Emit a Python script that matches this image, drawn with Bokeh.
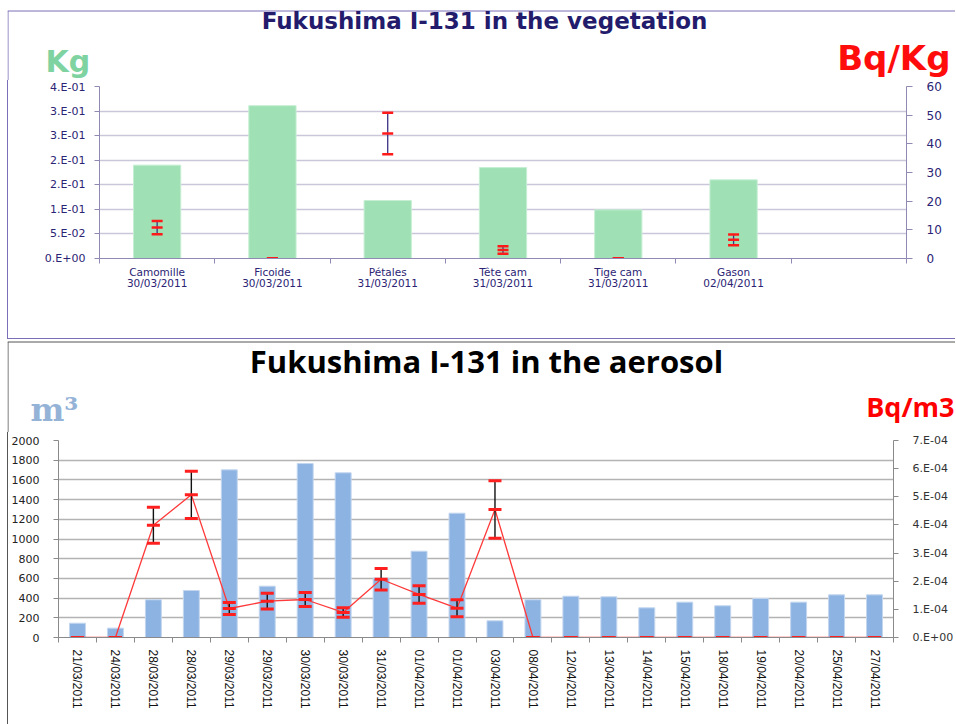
import math
from bokeh.plotting import figure
from bokeh.models import Range1d, LinearAxis, FixedTicker, Label
from bokeh.embed import file_html
from bokeh.resources import INLINE

# ---------------- Top panel: vegetation ----------------
veg_names = ["Camomille", "Ficoide", "Pétales", "Tête cam", "Tige cam", "Gason"]
veg_dates = ["30/03/2011", "30/03/2011", "31/03/2011", "31/03/2011", "31/03/2011", "02/04/2011"]
veg_mass_kg = [0.190, 0.311, 0.118, 0.185, 0.099, 0.160]
veg_activity_bqkg = [10.8, 0.0, 43.6, 3.0, 0.0, 6.5]
veg_error_bqkg = [2.3, 0.0, 7.2, 1.3, 0.0, 1.9]
veg_slots = 7
veg_left_ticks = [0, 0.05, 0.1, 0.15, 0.2, 0.25, 0.3, 0.35]
veg_left_labels = ["0.E+00", "5.E-02", "1.E-01", "2.E-01", "2.E-01", "3.E-01", "3.E-01", "4.E-01"]
veg_right_ticks = [0, 10, 20, 30, 40, 50, 60]

# ---------------- Bottom panel: aerosol ----------------
aer_dates = ["21/03/2011", "24/03/2011", "28/03/2011", "28/03/2011", "29/03/2011", "29/03/2011",
             "30/03/2011", "30/03/2011", "31/03/2011", "01/04/2011", "01/04/2011", "03/04/2011",
             "08/04/2011", "12/04/2011", "13/04/2011", "14/04/2011", "15/04/2011", "18/04/2011",
             "19/04/2011", "20/04/2011", "25/04/2011", "27/04/2011"]
aer_volume_m3 = [145, 95, 383, 477, 1702, 521, 1766, 1672, 602, 876, 1262, 169,
                 383, 419, 413, 301, 359, 322, 396, 359, 433, 433]
aer_activity_bqm3 = [0, 0, 3.99e-4, 5.07e-4, 1.03e-4, 1.29e-4, 1.35e-4, 0.89e-4, 2.07e-4, 1.53e-4,
                     1.04e-4, 4.55e-4, 0, 0, 0, 0, 0, 0, 0, 0, 0, 0]
aer_error_bqm3 = [0, 0, 0.64e-4, 0.84e-4, 0.21e-4, 0.28e-4, 0.25e-4, 0.17e-4, 0.38e-4, 0.31e-4,
                  0.30e-4, 1.02e-4, 0, 0, 0, 0, 0, 0, 0, 0, 0, 0]
aer_left_ticks = [0, 200, 400, 600, 800, 1000, 1200, 1400, 1600, 1800, 2000]
aer_right_ticks = [0, 0.0001, 0.0002, 0.0003, 0.0004, 0.0005, 0.0006, 0.0007]
aer_right_labels = ["0.E+00", "1.E-04", "2.E-04", "3.E-04", "4.E-04", "5.E-04", "6.E-04", "7.E-04"]

VERD = "DejaVu Sans"
NAVY = "#2b2475"
W = 948
PURPLE_C = "#7b6fb8"
GREY_C = "#555555"


def header(height, border_color, border_y):
    """Text strip above a chart; its frame spans the whole canvas (pixel data units)."""
    h = figure(width=W, height=height, x_range=Range1d(0, W), y_range=Range1d(0, height),
               output_backend="svg", toolbar_location=None, x_axis_location=None,
               y_axis_location=None, min_border=0, title=None, margin=(0, 0, 0, 7))
    h.grid.visible = False
    h.outline_line_color = None
    # panel frame: left and top edges
    h.segment(x0=[0.5, 0], y0=[0, border_y], x1=[0.5, W], y1=[border_y, border_y],
              line_color=border_color, line_width=1)
    return h


def add_text(fig, x, y, text, font, size, color, align, style="bold"):
    fig.add_layout(Label(x=x, y=y, text=text, text_align=align, text_baseline="alphabetic",
                         text_font=font, text_font_style=style, text_font_size=size,
                         text_color=color))


# =============== Top header ===============
h1 = header(80, PURPLE_C, 69.5)
add_text(h1, 477, 60, "Fukushima I-131 in the vegetation", VERD, "23px", "#231b6b", "center")
add_text(h1, 38, 19, "Kg", VERD, "30px", "#7fd3a0", "left")
add_text(h1, 943, 22.5, "Bq/Kg", VERD, "34px", "#ff0d0d", "right")

# =============== Top chart ===============
xc1 = [i + 0.5 for i in range(len(veg_names))]
p1 = figure(width=W, height=259, x_range=Range1d(0, veg_slots), y_range=Range1d(0, 0.35),
            output_backend="svg", toolbar_location=None, title=None, margin=(0, 0, 0, 7),
            min_border_left=91, min_border_right=50, min_border_top=6, min_border_bottom=81)
p1.outline_line_color = None
p1.extra_y_ranges = {"bq": Range1d(0, 60)}
p1.styles = {"border-left": f"1px solid {PURPLE_C}", "border-bottom": f"1px solid {PURPLE_C}",
             "box-sizing": "border-box"}

p1.vbar(x=xc1, top=veg_mass_kg, width=0.41, fill_color="#9fe1b4", line_color="#c6eed3", line_width=1)

lo1 = [v - e for v, e in zip(veg_activity_bqkg, veg_error_bqkg)]
hi1 = [v + e for v, e in zip(veg_activity_bqkg, veg_error_bqkg)]
p1.segment(x0=xc1, y0=lo1, x1=xc1, y1=hi1, y_range_name="bq", line_color="#3a3185", line_width=1.3)
for ys in (lo1, hi1, veg_activity_bqkg):
    p1.scatter(x=xc1, y=ys, y_range_name="bq", marker="dash", size=11, line_color="#ff1a1a", line_width=2.5)

ax = p1.xaxis[0]
ax.ticker = FixedTicker(ticks=xc1, minor_ticks=list(range(veg_slots + 1)))
ax.major_label_overrides = {x: f"{n}\n{d}" for x, n, d in zip(xc1, veg_names, veg_dates)}
ax.major_tick_line_color = None
ax.major_tick_out = 0
ax.minor_tick_in = 0
ax.minor_tick_out = 5
ax.minor_tick_line_color = "#8f89b3"
ax.axis_line_color = "#8f89b3"
ax.major_label_standoff = 2
ax.major_label_text_font = VERD
ax.major_label_text_font_size = "10.5px"
ax.major_label_text_line_height = 0.95
ax.major_label_text_color = NAVY

ay = p1.yaxis[0]
ay.ticker = FixedTicker(ticks=veg_left_ticks)
ay.major_label_overrides = dict(zip(veg_left_ticks, veg_left_labels))
ay.minor_tick_line_color = None
ay.major_tick_in = 0
ay.major_tick_out = 5
ay.major_tick_line_color = "#8f89b3"
ay.axis_line_color = "#8f89b3"
ay.major_label_standoff = 9
ay.major_label_text_font = VERD
ay.major_label_text_font_size = "11px"
ay.major_label_text_color = NAVY

ar = LinearAxis(y_range_name="bq", ticker=FixedTicker(ticks=veg_right_ticks))
ar.minor_tick_line_color = None
ar.major_tick_in = 0
ar.major_tick_out = 6
ar.major_tick_line_color = "#8f89b3"
ar.axis_line_color = "#8f89b3"
ar.major_label_standoff = 14
ar.major_label_text_font = VERD
ar.major_label_text_font_size = "12px"
ar.major_label_text_color = NAVY
p1.add_layout(ar, "right")

p1.xgrid.visible = False
p1.ygrid.grid_line_color = "#cac7db"
p1.ygrid.grid_line_width = 1.5

# =============== Bottom header ===============
h2 = header(93, GREY_C, 90.5)
add_text(h2, 479, 71.5, "Fukushima I-131 in the aerosol", "Open Sans", "31px", "#000000", "center")
add_text(h2, 23, 23, "m³", "DejaVu Serif", "32px", "#95b3d7", "left")
add_text(h2, 947, 26, "Bq/m3", "Open Sans", "27px", "#ff0000", "right")

# =============== Bottom chart ===============
n2 = len(aer_dates)
xc2 = [i + 0.5 for i in range(n2)]
p2 = figure(width=W, height=292, x_range=Range1d(0, n2), y_range=Range1d(0, 2000),
            output_backend="svg", toolbar_location=None, title=None, margin=(0, 0, 0, 7),
            min_border_left=50, min_border_right=56, min_border_top=8, min_border_bottom=87)
p2.outline_line_color = None
p2.extra_y_ranges = {"bq": Range1d(0, 0.0007)}
p2.styles = {"border-left": f"1px solid {GREY_C}", "box-sizing": "border-box"}

p2.vbar(x=xc2, top=aer_volume_m3, width=0.42, fill_color="#8db3e2", line_color="#c3d6ef", line_width=1)
p2.line(x=xc2, y=aer_activity_bqm3, y_range_name="bq", line_color="#ff3a3a", line_width=1.3)

lo2 = [v - e for v, e in zip(aer_activity_bqm3, aer_error_bqm3)]
hi2 = [v + e for v, e in zip(aer_activity_bqm3, aer_error_bqm3)]
p2.segment(x0=xc2, y0=lo2, x1=xc2, y1=hi2, y_range_name="bq", line_color="#111111", line_width=1.4)
for ys in (lo2, hi2, aer_activity_bqm3):
    p2.scatter(x=xc2, y=ys, y_range_name="bq", marker="dash", size=13, line_color="#ff1f1f", line_width=3)

bx = p2.xaxis[0]
bx.ticker = FixedTicker(ticks=xc2, minor_ticks=list(range(n2 + 1)))
bx.major_label_overrides = dict(zip(xc2, aer_dates))
bx.major_label_orientation = -math.pi / 2
bx.major_tick_line_color = None
bx.major_tick_out = 0
bx.minor_tick_in = 0
bx.minor_tick_out = 5
bx.minor_tick_line_color = "#8a8a8a"
bx.axis_line_color = "#8a8a8a"
bx.major_label_standoff = 7
bx.major_label_text_font = "Liberation Sans"
bx.major_label_text_font_size = "12px"
bx.major_label_text_color = "#111111"

by = p2.yaxis[0]
by.ticker = FixedTicker(ticks=aer_left_ticks)
by.minor_tick_line_color = None
by.major_tick_in = 0
by.major_tick_out = 5
by.major_tick_line_color = "#8a8a8a"
by.axis_line_color = "#8a8a8a"
by.major_label_standoff = 14
by.major_label_text_font = VERD
by.major_label_text_font_size = "11px"
by.major_label_text_color = "#222222"

br = LinearAxis(y_range_name="bq", ticker=FixedTicker(ticks=aer_right_ticks))
br.major_label_overrides = dict(zip(aer_right_ticks, aer_right_labels))
br.minor_tick_line_color = None
br.major_tick_in = 0
br.major_tick_out = 5
br.major_tick_line_color = "#8a8a8a"
br.axis_line_color = "#8a8a8a"
br.major_label_standoff = 14
br.major_label_text_font = VERD
br.major_label_text_font_size = "11px"
br.major_label_text_color = "#333333"
p2.add_layout(br, "right")

p2.xgrid.visible = False
p2.ygrid.grid_line_color = "#b3b3b3"
p2.ygrid.grid_line_width = 1.5

# Separate roots so that Bokeh does not align the frames of the four figures.
open("out.html", "w").write(file_html([h1, p1, h2, p2], INLINE))
